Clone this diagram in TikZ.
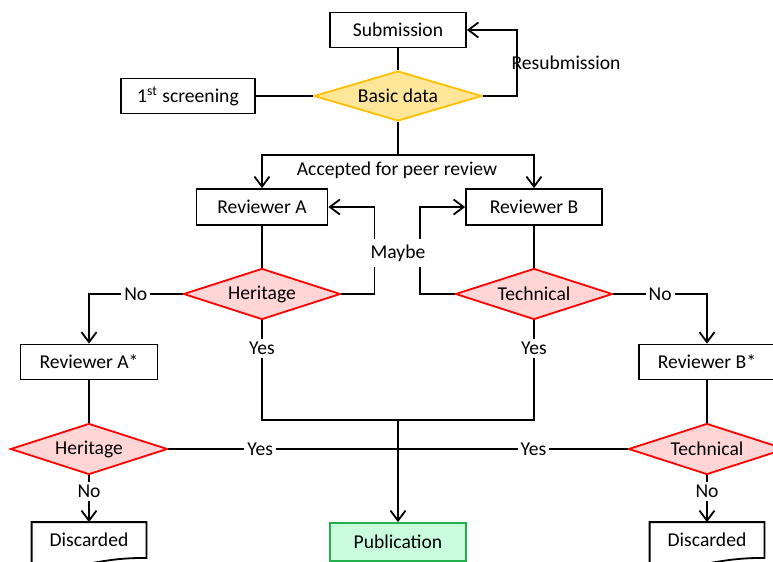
\documentclass[tikz,border=0pt]{standalone}
\usepackage{fontspec}
\setmainfont{Carlito}
\usetikzlibrary{shapes.geometric,arrows.meta}
\definecolor{basicfill}{HTML}{FFE699}
\definecolor{basicline}{HTML}{FFC000}
\definecolor{reviewfill}{HTML}{FFD5D5}
\definecolor{pubfill}{HTML}{C9FCDD}
\definecolor{publine}{HTML}{22B04C}

\begin{document}
\begin{tikzpicture}[x=0.5pt,y=-0.5pt,line width=0.9pt,
  every node/.style={font=\fontsize{9.8}{12}\selectfont},
  box/.style={draw,minimum height=17.5pt,inner sep=0pt},
  decide/.style={diamond,aspect=3,draw=red,fill=reviewfill,minimum width=78.5pt,minimum height=25.5pt,inner sep=0pt},
  lbl/.style={fill=white,inner sep=1.5pt},
  arr/.style={-{Straight Barb[length=5pt,width=7.5pt]}}]
\useasboundingbox (0,0) rectangle (773,562);
\clip (0,0) rectangle (773,562);
\node[box,minimum width=68pt] (sub) at (398,30) {Submission};
\node[diamond,aspect=3,draw=basicline,fill=basicfill,minimum width=84pt,minimum height=25pt,inner sep=0pt] (basic) at (398,96) {Basic data};
\node[box,minimum width=67pt] (screen) at (188,96) {1\textsuperscript{st} screening};
\node[box,minimum width=65.5pt,minimum height=18pt] (revA) at (262,207) {Reviewer A};
\node[box,minimum width=68pt,minimum height=18pt] (revB) at (534,207) {Reviewer B};
\node[decide] (herA) at (262,294) {Heritage};
\node[decide] (tecB) at (534,294) {Technical};
\node[box,minimum width=68.5pt] (revAs) at (89,362) {Reviewer A*};
\node[box,minimum width=68pt] (revBs) at (707,362) {Reviewer B*};
\node[decide] (herA2) at (89,449) {Heritage};
\node[decide] (tecB2) at (707,449) {Technical};
\node[box,draw=publine,fill=pubfill,minimum width=68pt,minimum height=19pt] (pub) at (398,542) {Publication};
\node[minimum width=56.5pt,minimum height=17pt,inner sep=0pt] (disA) at (89,540) {Discarded};
\node[minimum width=56.5pt,minimum height=17pt,inner sep=0pt] (disB) at (707,540) {Discarded};
\draw (disA.south east) .. controls +(-28.25pt,0) and +(28.25pt,-3.7pt) .. ([yshift=-2.85pt]disA.south west) -- (disA.north west) -- (disA.north east) -- cycle;
\draw (disB.south east) .. controls +(-28.25pt,0) and +(28.25pt,-3.7pt) .. ([yshift=-2.85pt]disB.south west) -- (disB.north west) -- (disB.north east) -- cycle;
\draw (sub) -- (basic);
\draw (screen) -- (basic);
\draw[arr] (basic.east) -- ++(17pt,0) |- (sub.east);
\node (resub) at (566,63) {Resubmission};
\coordinate (acc) at (398,155);
\draw (basic.south) -- (acc);
\draw[arr] (acc) -| (revA.north);
\draw[arr] (acc) -| (revB.north);
\node (acclbl) at (397,170) {Accepted for peer review};
\draw (revA) -- (herA);
\draw (revB) -- (tecB);
\draw[arr] (herA.east) -- ++(16.5pt,0) |- (revA.east);
\draw[arr] (tecB.west) -- ++(-17.5pt,0) |- (revB.west);
\node[lbl,inner sep=3pt] (maybe) at (398,253) {Maybe};
\draw[arr] (herA.west) -| (revAs.north) node[lbl,pos=0.25] {No};
\draw[arr] (tecB.east) -| (revBs.north) node[lbl,pos=0.25] {No};
\coordinate (join) at (398,420);
\draw (herA.south) |- (join) node[lbl,pos=0.14] {Yes};
\draw (tecB.south) |- (join) node[lbl,pos=0.14] {Yes};
\draw[arr] (join) -- (pub.north);
\draw (revAs) -- (herA2);
\draw (revBs) -- (tecB2);
\draw (herA2.east) -- (herA2.east -| join) node[lbl,pos=0.4] {Yes};
\draw (tecB2.west) -- (tecB2.west -| join) node[lbl,pos=0.41] {Yes};
\draw[arr] (herA2.south) -- (disA.north) node[lbl,pos=0.35] {No};
\draw[arr] (tecB2.south) -- (disB.north) node[lbl,pos=0.35] {No};
\end{tikzpicture}
\end{document}
